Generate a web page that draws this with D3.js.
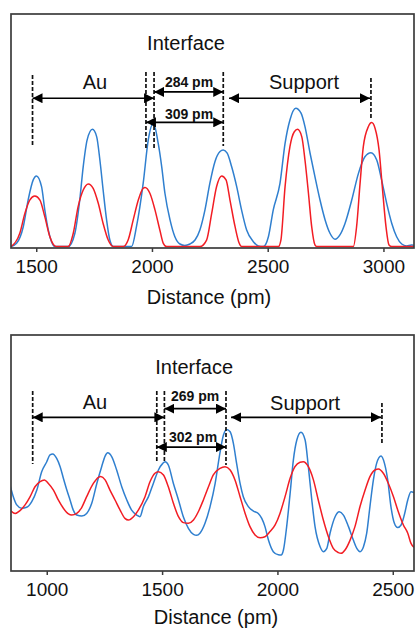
<!DOCTYPE html>
<html>
<head>
<meta charset="utf-8">
<script src="https://cdn.jsdelivr.net/npm/d3@7"></script>
<style>
  html, body { margin: 0; padding: 0; background: #fff; }
  svg { display: block; font-family: "Liberation Sans", Arial, sans-serif; }
</style>
</head>
<body>
<svg id="chart" width="420" height="631"></svg>
<script>
// ---------- DATA ----------
// Top panel: distance (pm) and intensity (a.u., 0-100)
const topBlueX = [1391,1415,1444,1465,1487,1501,1523,1537,1552,1566,1580,1638,1667,1688,1703,1720,1743,1761,1775,1789,1804,1818,1833,1912,1933,1962,1984,2006,2027,2042,2056,2078,2099,2121,2142,2164,2186,2207,2229,2250,2272,2294,2308,2325,2344,2366,2387,2409,2438,2459,2481,2503,2524,2553,2575,2596,2621,2644,2661,2683,2704,2726,2748,2769,2791,2812,2834,2863,2892,2920,2946,2971,2992,3014,3036,3057,3079,3100,3122,3132];
const topBlueY = [0.6,2.0,9.1,20.5,29.1,30.8,26.2,16.3,7.7,2.7,0.6,0.6,6.3,20.5,34.8,46.2,50.7,47.6,37.6,24.8,12.0,3.4,0.6,0.6,9.1,27.6,46.2,53.3,44.7,34.8,23.4,12.0,4.8,1.7,1.1,1.7,3.4,7.7,16.3,27.6,36.9,41.2,41.9,40.5,34.8,26.2,16.3,7.7,2.7,0.9,0.6,4.8,16.3,27.6,44.7,54.7,59.7,57.6,51.9,40.5,30.5,20.5,12.0,6.3,3.7,5.6,10.5,20.5,31.9,39.0,40.7,37.6,29.1,19.1,10.5,4.8,1.7,0.9,1.3,1.2];
const topRedX = [1391,1429,1451,1472,1494,1516,1537,1559,1580,1590,1638,1660,1681,1703,1725,1746,1768,1789,1811,1833,1876,1897,1919,1941,1962,1970,1991,2013,2034,2049,2063,2207,2236,2258,2279,2301,2320,2337,2359,2377,2387,2546,2557,2575,2596,2615,2629,2647,2661,2676,2690,2704,2712,2870,2884,2899,2913,2935,2949,2964,2981,2995,3011,3024,3036,3132];
const topRedY = [0.6,6.3,14.8,20.5,22.2,20.5,13.4,4.8,0.9,0.6,0.6,6.3,17.7,24.8,27.4,25.5,19.1,10.5,3.4,0.6,0.6,3.4,12.0,20.5,25.5,25.9,23.4,16.3,7.7,2.0,0.6,0.6,3.4,14.8,26.2,30.8,29.1,20.5,9.1,2.0,0.6,0.6,3.4,26.2,43.3,49.7,50.7,47.6,37.6,23.4,9.1,1.3,0.6,0.6,9.1,27.6,43.3,51.9,53.6,51.1,41.9,26.2,9.1,1.3,0.6,0.6];

// Bottom panel
const botBlueX = [841,855,870,891,913,935,957,978,1000,1014,1026,1043,1058,1072,1087,1101,1115,1130,1152,1173,1195,1217,1238,1253,1264,1282,1303,1325,1347,1368,1390,1404,1419,1441,1462,1484,1503,1513,1527,1549,1571,1592,1614,1636,1650,1664,1686,1708,1730,1748,1766,1780,1795,1809,1823,1838,1852,1874,1896,1917,1932,1946,1961,1982,2004,2016,2026,2040,2055,2069,2084,2102,2120,2134,2149,2163,2185,2199,2214,2228,2250,2268,2286,2308,2329,2344,2358,2373,2387,2401,2416,2430,2449,2464,2478,2492,2507,2521,2536,2550,2565,2579,2592];
const botBlueY = [36.4,31.5,28.0,26.6,27.0,29.4,34.3,42.1,46.3,49.2,49.6,47.7,44.2,39.3,34.3,30.1,25.8,23.7,23.3,24.4,28.7,37.1,44.2,48.7,50.1,48.4,42.8,35.7,30.1,25.8,23.7,23.0,27.3,31.5,37.1,42.8,45.6,46.3,44.9,37.1,30.1,23.0,18.1,15.5,15.1,16.0,20.2,27.3,37.1,48.4,57.6,60.0,59.0,54.1,45.6,37.1,31.5,27.3,25.4,24.4,22.3,18.8,13.1,8.2,6.9,6.8,8.9,18.8,32.9,47.0,55.5,58.8,55.5,44.2,30.1,18.8,10.3,8.2,9.6,16.0,23.0,25.1,23.7,18.8,13.1,9.6,8.2,10.3,16.0,27.3,38.6,45.6,48.7,45.6,38.6,27.3,20.2,18.4,19.5,23.7,30.1,33.6,33.2];
const botRedX = [841,863,884,906,928,949,971,990,1007,1029,1050,1072,1094,1108,1130,1152,1173,1202,1224,1234,1253,1274,1296,1318,1339,1354,1376,1397,1426,1448,1469,1484,1506,1527,1549,1571,1592,1614,1636,1657,1679,1701,1722,1751,1773,1795,1816,1838,1860,1881,1903,1925,1946,1968,1990,2011,2033,2055,2076,2098,2112,2134,2156,2177,2199,2221,2242,2264,2276,2293,2315,2336,2358,2380,2401,2423,2438,2459,2481,2503,2524,2546,2565,2579,2592];
const botRedY = [25.8,24.4,25.6,28.0,31.5,35.7,37.9,38.6,37.1,34.3,30.1,26.6,24.2,23.7,24.4,27.0,31.5,37.1,39.7,40.0,38.6,34.3,30.1,25.8,22.3,21.6,23.0,25.8,31.5,37.9,41.4,42.1,40.7,35.7,28.7,23.0,20.5,20.2,21.6,25.1,30.1,35.7,40.7,43.5,44.2,42.8,38.6,31.5,24.4,18.8,15.3,14.1,14.5,16.7,19.5,24.4,31.5,39.3,44.2,46.1,46.3,44.2,38.6,30.1,21.6,14.5,9.6,7.8,7.5,8.9,13.1,18.8,27.3,34.3,40.0,42.8,43.2,41.4,37.1,31.5,25.1,19.5,16.0,11.7,10.0];

// Tick labels
const topTicks = [1500, 2000, 2500, 3000];
const botTicks = [1000, 1500, 2000, 2500];

// Annotations (x in pm, y in intensity units)
const topDashX = [1484, 1974, 2009, 2308, 2946];
const topDashY1 = [73.9, 75.2, 75.2, 75.2, 72.6];
const topDashY2 = [43.2, 42.7, 42.7, 43.6, 55.6];
const topArrowX1 = [1484, 2009, 1974, 2333];
const topArrowX2 = [2009, 2308, 2308, 2942];
const topArrowY = [64.0, 66.7, 53.7, 64.0];
const topLabels = ["Interface", "Au", "Support", "284 pm", "309 pm"];
const topLabelX = [2147, 1754, 2657, 2160, 2160];
const topLabelY = [87.6, 70.9, 70.9, 70.9, 57.3];

const botDashX = [939, 1477, 1510, 1777, 2453];
const botDashY1 = [76.3, 76.3, 76.3, 76.3, 71.2];
const botDashY2 = [45.3, 46.2, 46.2, 44.9, 53.4];
const botArrowX1 = [939, 1510, 1477, 1799];
const botArrowX2 = [1510, 1777, 1777, 2449];
const botArrowY = [65.1, 68.8, 52.5, 65.1];
const botLabels = ["Interface", "Au", "Support", "269 pm", "302 pm"];
const botLabelX = [1639, 1209, 2120, 1643, 1634];
const botLabelY = [86.4, 71.6, 71.2, 74.2, 56.8];

const axisTitle = "Distance (pm)";

// ---------- DRAW ----------
const svg = d3.select("#chart");
const BLUE = "#2f7fcf", RED = "#f21d24", FRAME = "#3c3c3c";

const defs = svg.append("defs");
defs.append("marker").attr("id", "ah")
  .attr("viewBox", "0 0 10 10").attr("refX", 10).attr("refY", 5)
  .attr("markerWidth", 10).attr("markerHeight", 10)
  .attr("markerUnits", "userSpaceOnUse")
  .attr("orient", "auto-start-reverse")
  .append("path").attr("d", "M0,0 L10,5 L0,10 Z").attr("fill", "#000");

function panel(id, box, xDomain, ticks, blue, red, ann, titleX, titleY) {
  const x = d3.scaleLinear().domain(xDomain).range([box.left, box.right]);
  const y = d3.scaleLinear().domain([0, 100]).range([box.bottom, box.top]);
  const g = svg.append("g");

  defs.append("clipPath").attr("id", "clip" + id)
    .append("rect").attr("x", box.left).attr("y", box.top)
    .attr("width", box.right - box.left).attr("height", box.bottom - box.top);

  const line = d3.line().x(d => x(d[0])).y(d => y(d[1])).curve(d3.curveMonotoneX);
  const cg = g.append("g").attr("clip-path", `url(#clip${id})`);
  cg.append("path").datum(d3.zip(blue[0], blue[1]))
    .attr("d", line).attr("fill", "none").attr("stroke", BLUE).attr("stroke-width", 1.5);
  cg.append("path").datum(d3.zip(red[0], red[1]))
    .attr("d", line).attr("fill", "none").attr("stroke", RED).attr("stroke-width", 1.5);

  // axis
  const ax = g.append("g").attr("transform", `translate(0,${box.bottom})`)
    .call(d3.axisBottom(x).tickValues(ticks).tickSize(4).tickPadding(8).tickFormat(d3.format("d")));
  ax.select(".domain").remove();
  ax.selectAll("line").attr("stroke", FRAME).attr("stroke-width", 1.5);
  ax.selectAll("text").attr("font-size", 19).attr("fill", "#111")
    .attr("font-family", '"Liberation Sans", Arial, sans-serif');

  // frame
  g.append("rect").attr("x", box.left).attr("y", box.top)
    .attr("width", box.right - box.left).attr("height", box.bottom - box.top)
    .attr("fill", "none").attr("stroke", FRAME).attr("stroke-width", 1.7);

  // axis title
  g.append("text").attr("x", titleX).attr("y", titleY)
    .attr("text-anchor", "middle").attr("dominant-baseline", "central")
    .attr("font-size", 20).attr("fill", "#111").text(axisTitle);

  // dashed lines
  ann.dashX.forEach((dx, i) => {
    g.append("line").attr("x1", x(dx)).attr("x2", x(dx))
      .attr("y1", y(ann.dashY1[i])).attr("y2", y(ann.dashY2[i]))
      .attr("stroke", "#111").attr("stroke-width", 1.7).attr("stroke-dasharray", "4,2");
  });
  // arrows
  ann.arrX1.forEach((a, i) => {
    g.append("line").attr("x1", x(a)).attr("x2", x(ann.arrX2[i]))
      .attr("y1", y(ann.arrY[i])).attr("y2", y(ann.arrY[i]))
      .attr("stroke", "#000").attr("stroke-width", 1.7)
      .attr("marker-start", "url(#ah)").attr("marker-end", "url(#ah)");
  });
  // labels
  ann.labels.forEach((t, i) => {
    const bold = /pm$/.test(t);
    g.append("text").attr("x", x(ann.lx[i])).attr("y", y(ann.ly[i]))
      .attr("text-anchor", "middle").attr("dominant-baseline", "central")
      .attr("font-size", bold ? 14 : 20).attr("font-weight", bold ? "bold" : "normal")
      .attr("fill", "#111").text(t);
  });
}

panel("t", {left: 11, right: 414, top: 14, bottom: 248}, [1391, 3132], topTicks,
  [topBlueX, topBlueY], [topRedX, topRedY],
  {dashX: topDashX, dashY1: topDashY1, dashY2: topDashY2,
   arrX1: topArrowX1, arrX2: topArrowX2, arrY: topArrowY,
   labels: topLabels, lx: topLabelX, ly: topLabelY}, 209, 297);

panel("b", {left: 11, right: 414, top: 335, bottom: 571}, [845, 2592], botTicks,
  [botBlueX, botBlueY], [botRedX, botRedY],
  {dashX: botDashX, dashY1: botDashY1, dashY2: botDashY2,
   arrX1: botArrowX1, arrX2: botArrowX2, arrY: botArrowY,
   labels: botLabels, lx: botLabelX, ly: botLabelY}, 216, 617);
</script>
</body>
</html>
